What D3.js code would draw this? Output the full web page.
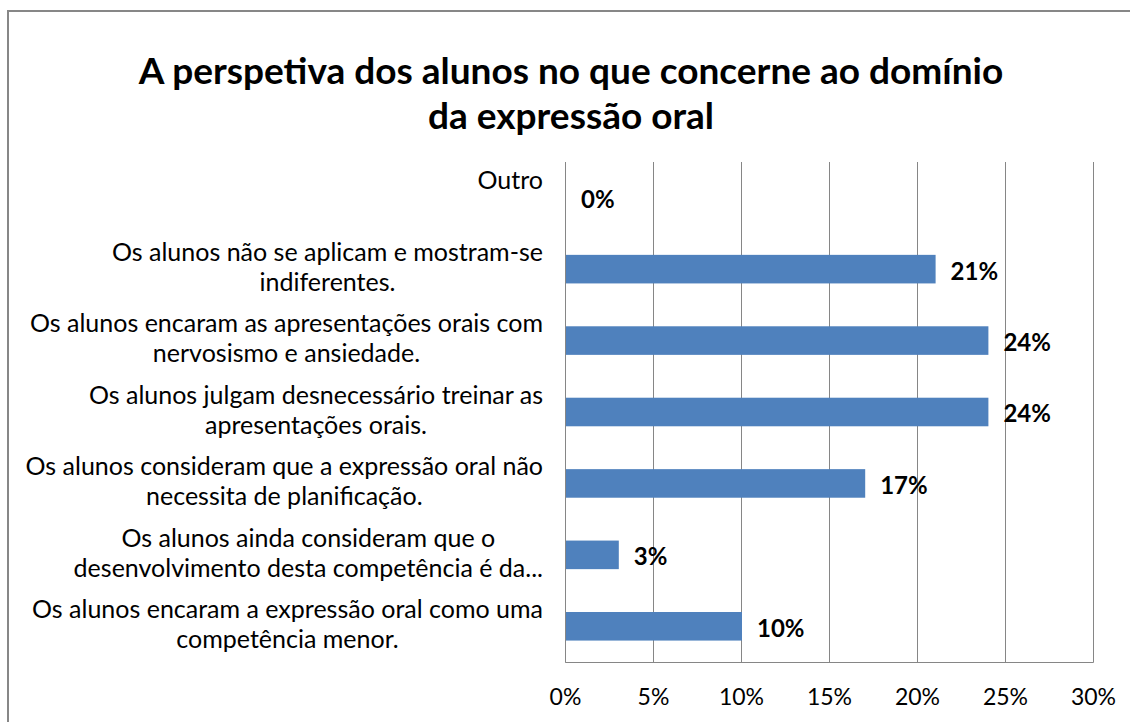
<!DOCTYPE html>
<html>
<head>
<meta charset="utf-8">
<script src="https://cdn.jsdelivr.net/npm/d3@7"></script>
<style>
  body { margin: 0; background: #fff; }
  text { font-family: Lato, "Open Sans", sans-serif; fill: #000; }
</style>
</head>
<body>
<svg id="chart"></svg>
<script>
const width = 1130;
const height = 722;

const titleLines = ['A perspetiva dos alunos no que concerne ao domínio', 'da expressão oral'];

// category labels, top to bottom, already wrapped like the original
const categories = [
  ['Outro', ''],
  ['Os alunos não se aplicam e mostram-se', 'indiferentes.'],
  ['Os alunos encaram as apresentações orais com', 'nervosismo e ansiedade.'],
  ['Os alunos julgam desnecessário treinar as', 'apresentações orais.'],
  ['Os alunos consideram que a expressão oral não', 'necessita de planificação.'],
  ['Os alunos ainda consideram que o', 'desenvolvimento desta competência é da...'],
  ['Os alunos encaram a expressão oral como uma', 'competência menor.']
];
const values = [0, 21, 24, 24, 17, 3, 10];
const ticks = [0, 5, 10, 15, 20, 25, 30];

const plotLeft = 565, plotRight = 1093, plotTop = 162, plotBottom = 662;

const svg = d3.select('#chart')
  .attr('width', width)
  .attr('height', height);

// chart area frame (runs off the right and bottom edge)
svg.append('rect')
  .attr('x', 8).attr('y', 11)
  .attr('width', 1200).attr('height', 800)
  .attr('fill', 'none')
  .attr('stroke', '#878787')
  .attr('stroke-width', 2);

svg.append('g').selectAll('text')
  .data(titleLines)
  .enter().append('text')
  .attr('x', 571)
  .attr('y', (d, i) => 84 + i * 45)
  .attr('text-anchor', 'middle')
  .style('font-size', '37px')
  .style('font-weight', 'bold')
  .text(d => d);

const x = d3.scaleLinear().domain([0, 30]).range([plotLeft, plotRight]);
const y = d3.scaleBand().domain(d3.range(categories.length)).range([plotTop, plotBottom])
  .paddingInner(0.6).paddingOuter(0.3);

const xAxis = svg.append('g')
  .attr('transform', `translate(0, ${plotBottom})`)
  .call(d3.axisBottom(x).tickValues(ticks).tickFormat(d => d + '%').tickSize(-(plotBottom - plotTop)));
xAxis.select('.domain').attr('stroke', '#868686');
xAxis.selectAll('.tick line').attr('stroke', '#868686');
xAxis.selectAll('.tick text')
  .attr('y', 35).attr('dy', '0.35em')
  .style('font-size', '23px')
  .style('font-family', 'Lato, "Open Sans", sans-serif')
  .attr('fill', '#000');

const yAxis = svg.append('g')
  .attr('transform', `translate(${plotLeft}, 0)`)
  .call(d3.axisLeft(y).tickSize(0).tickFormat(''));
yAxis.select('.domain').attr('stroke', '#868686');

svg.append('g').selectAll('rect')
  .data(values)
  .enter().append('rect')
  .attr('x', x(0) + 1)
  .attr('y', (d, i) => y(i))
  .attr('width', d => x(d) - x(0))
  .attr('height', y.bandwidth())
  .attr('fill', '#4F81BD');

svg.append('g').selectAll('text')
  .data(values)
  .enter().append('text')
  .attr('x', d => x(d) + 16)
  .attr('y', (d, i) => y(i) + y.bandwidth() / 2 + 2)
  .attr('dy', '0.35em')
  .style('font-size', '24px')
  .style('font-weight', 'bold')
  .text(d => d + '%');

// multi-line category labels, block right-aligned, lines centred
const labels = svg.append('g').selectAll('g')
  .data(categories)
  .enter().append('g');

labels.each(function(lines, i) {
  const g = d3.select(this);
  const cy = y(i) + y.bandwidth() / 2 - 2;
  const texts = lines.map((line, k) => g.append('text')
    .attr('y', cy + (k - (lines.length - 1) / 2) * 30)
    .attr('dy', '0.35em')
    .attr('text-anchor', 'middle')
    .style('font-size', '25px')
    .text(line));
  const w = d3.max(texts, t => t.node().getComputedTextLength());
  texts.forEach(t => t.attr('x', 543 - w / 2));
});
</script>
</body>
</html>
